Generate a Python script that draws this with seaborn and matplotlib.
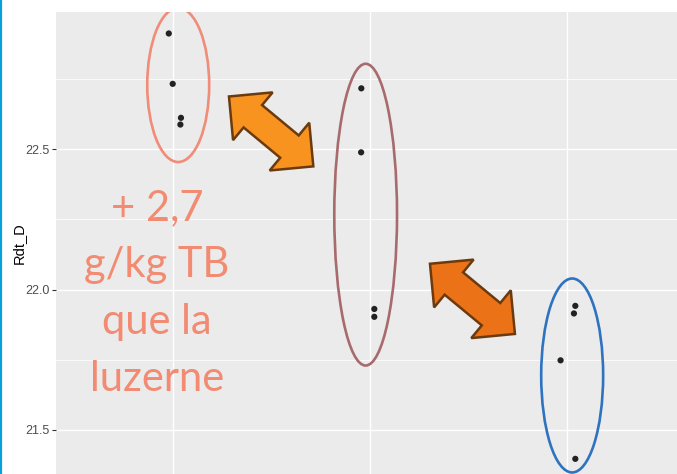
import numpy as np
import pandas as pd
import matplotlib
matplotlib.use("Agg")
import matplotlib.pyplot as plt
import seaborn as sns
from matplotlib.patches import Ellipse, Polygon
from matplotlib.transforms import IdentityTransform
from matplotlib.lines import Line2D

# ---- data ----
groups = ["1", "2", "3"]
group_of_point = ["1", "1", "1", "1", "2", "2", "2", "2", "3", "3", "3", "3"]
jitter = [-0.023, -0.003, 0.039, 0.036,
          -0.044, -0.045, 0.022, 0.022,
          0.044, 0.037, -0.031, 0.044]
rdt_d = [22.9125, 22.733, 22.612, 22.588,
         22.717, 22.489, 21.931, 21.903,
         21.942, 21.915, 21.748, 21.397]
y_ticks = [21.5, 22.0, 22.5]
y_tick_labels = ["21.5", "22.0", "22.5"]
note_lines = ["+ 2,7", "g/kg TB", "que la", "luzerne"]

df = pd.DataFrame({
    "group": group_of_point,
    "jitter": jitter,
    "Rdt_D": rdt_d,
})
df["xpos"] = df["group"].map({g: i + 1 for i, g in enumerate(groups)}) + df["jitter"]

sns.set_theme(style="darkgrid", rc={
    "axes.facecolor": "#EBEBEB",
    "grid.color": "white",
    "figure.facecolor": "white",
})
plt.rcParams["font.family"] = ["Liberation Sans", "DejaVu Sans"]

fig = plt.figure(figsize=(6.77, 4.74), dpi=100)
ax = fig.add_axes([56 / 677, 0, 1 - 56 / 677, 1 - 12 / 474])

sns.scatterplot(data=df, x="xpos", y="Rdt_D", color="#222222", s=20,
                edgecolor="none", ax=ax, zorder=3)

ax.set_xlim(0.4036, 3.561)
ax.set_ylim(21.343, 22.989)
ax.set_xticks([1, 2, 3])
ax.set_xticklabels([])
ax.set_yticks(y_ticks)
ax.set_yticklabels(y_tick_labels)
ax.set_yticks([21.75, 22.25, 22.75], minor=True)
ax.grid(which="major", color="white", lw=1.0)
ax.grid(which="minor", axis="y", color="white", lw=0.55)
ax.tick_params(axis="y", which="major", length=3, width=0.8, color="#333333",
               labelsize=9, labelcolor="#4D4D4D", pad=1.5, left=True)
ax.tick_params(axis="x", which="both", length=0, bottom=False)
ax.tick_params(which="minor", length=0)
ax.set_xlabel("")
ax.set_ylabel("Rdt_D", fontsize=10.5, color="black", labelpad=0)
for s in ax.spines.values():
    s.set_visible(False)

# ---- ellipses around the groups ----
ell_specs = [((1.025, 22.729), 0.315, 0.549, "#F08C78"),
             ((1.978, 22.267), 0.319, 1.075, "#A86B6D"),
             ((3.028, 21.694), 0.315, 0.691, "#2E73C0")]
for (c, w, h, col) in ell_specs:
    ax.add_patch(Ellipse(c, w, h, fill=False, edgecolor=col, lw=1.9, zorder=4))

# ---- double arrows ----
def double_arrow(p0, p1, body_w, head_w, head_l, fc, ec):
    a = ax.transData.transform(p0)
    b = ax.transData.transform(p1)
    d = b - a
    L = np.hypot(*d)
    u = d / L
    n = np.array([-u[1], u[0]])
    b0 = a + u * head_l
    b1 = b - u * head_l
    pts = [a, b0 + n * head_w / 2, b0 + n * body_w / 2, b1 + n * body_w / 2,
           b1 + n * head_w / 2, b, b1 - n * head_w / 2, b1 - n * body_w / 2,
           b0 - n * body_w / 2, b0 - n * head_w / 2]
    poly = Polygon(pts, closed=True, facecolor=fc, edgecolor=ec, lw=1.8,
                   joinstyle="miter", transform=IdentityTransform(), zorder=5)
    fig.add_artist(poly)

double_arrow((1.283, 22.688), (1.712, 22.439), 29, 62, 31, "#F7931E", "#6B3A0E")
double_arrow((2.305, 22.092), (2.737, 21.842), 29, 62, 31, "#EC7217", "#6B3A0E")

# ---- annotation text ----
for i, line in enumerate(note_lines):
    ax.text(0.917, 22.249 - 0.2038 * i, line, ha="center", va="baseline",
            fontsize=30, color="#F28B72", family=["Lato", "DejaVu Sans"], zorder=6)

# left blue border
fig.add_artist(Line2D([0.0015, 0.0015], [0, 1], transform=fig.transFigure,
                      color="#0AA0DA", lw=1.6))

fig.savefig("out.png", dpi=100)
